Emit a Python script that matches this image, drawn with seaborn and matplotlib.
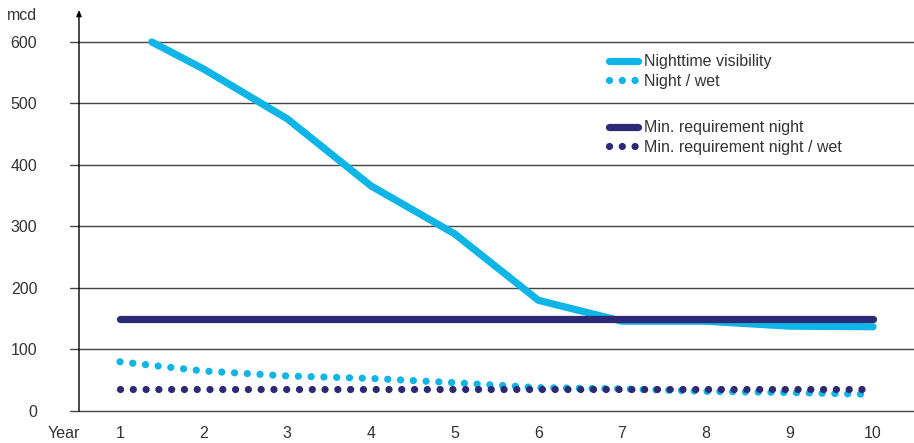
import numpy as np
import pandas as pd
import matplotlib
matplotlib.use("Agg")
import matplotlib.pyplot as plt
import seaborn as sns

# values (mcd over years)
years = [1, 2, 3, 4, 5, 6, 7, 8, 9, 10]
vis_years = [1.38, 2, 3, 4, 5, 6, 7, 8, 9, 10]
night_vis = [600, 556, 475, 366, 288, 180, 146, 146, 138, 137]
night_wet = [80, 65, 57, 53, 46, 38, 36, 32, 30, 27]
min_night = [150] * 10
min_night_wet = [35] * 10
y_ticks = [0, 100, 200, 300, 400, 500, 600]

light = "#0FB5E6"
dark = "#2D2975"
text_col = "#333333"

sns.set_style("white")
plt.rcParams["font.family"] = ["Liberation Sans", "DejaVu Sans"]

fig = plt.figure(figsize=(9.14, 4.43), dpi=100)
ax = fig.add_axes([79 / 914, 32 / 443, 835 / 914, 401 / 443])

dots = (0, (0.01, 1.76))
sns.lineplot(x=vis_years, y=night_vis, ax=ax, color=light, lw=5.2,
             solid_capstyle="round", label="Nighttime visibility")
sns.lineplot(x=years, y=night_wet, ax=ax, color=light, lw=5.2,
             linestyle=dots, dash_capstyle="round", label="Night / wet")
sns.lineplot(x=years, y=min_night, ax=ax, color=dark, lw=5.2,
             solid_capstyle="round", label="Min. requirement night")
sns.lineplot(x=years, y=min_night_wet, ax=ax, color=dark, lw=5.2,
             linestyle=dots, dash_capstyle="round", label="Min. requirement night / wet")

ax.set_xlim(0.51, 10.49)
ax.set_ylim(0, 652)

# horizontal gridlines reaching a bit left of the axis
for v in y_ticks:
    ax.axhline(v, xmin=-0.011, xmax=1, color="#444444", lw=1.0, clip_on=False, zorder=0)

for s in ax.spines.values():
    s.set_visible(False)

# vertical axis with arrow head
ax.annotate("", xy=(0, 1.0), xytext=(0, 0), xycoords="axes fraction",
            arrowprops=dict(arrowstyle="-|>,head_length=0.35,head_width=0.15",
                            color="black", lw=1.0, shrinkA=0, shrinkB=0))

ax.set_yticks(y_ticks)
ax.set_xticks(years)
ax.set_xticklabels([str(y) for y in years])
ax.tick_params(axis="y", length=0, pad=30, labelsize=11.5, labelcolor=text_col)
ax.tick_params(axis="x", length=0, pad=11, labelsize=11.5, labelcolor=text_col)
ax.set_xlabel("")
ax.set_ylabel("")

fig.text(37 / 914, 1 - 15 / 443, "mcd", ha="right", va="center", fontsize=11.5, color=text_col)
fig.text(80 / 914, 1 - 434 / 443, "Year", ha="right", va="center", fontsize=11.5, color=text_col)

lines = ax.get_lines()
leg_kw = dict(frameon=False, loc="upper left", fontsize=11.5, handlelength=1.8,
              handletextpad=0.35, labelspacing=0.3, borderpad=0, borderaxespad=0,
              labelcolor=text_col)
leg1 = ax.legend(handles=lines[:2], labels=["Nighttime visibility", "Night / wet"],
                 bbox_to_anchor=(0.635, 0.89), **leg_kw)
ax.add_artist(leg1)
ax.legend(handles=lines[2:4], labels=["Min. requirement night", "Min. requirement night / wet"],
          bbox_to_anchor=(0.635, 0.725), **leg_kw)

fig.savefig("out.png", dpi=100)
